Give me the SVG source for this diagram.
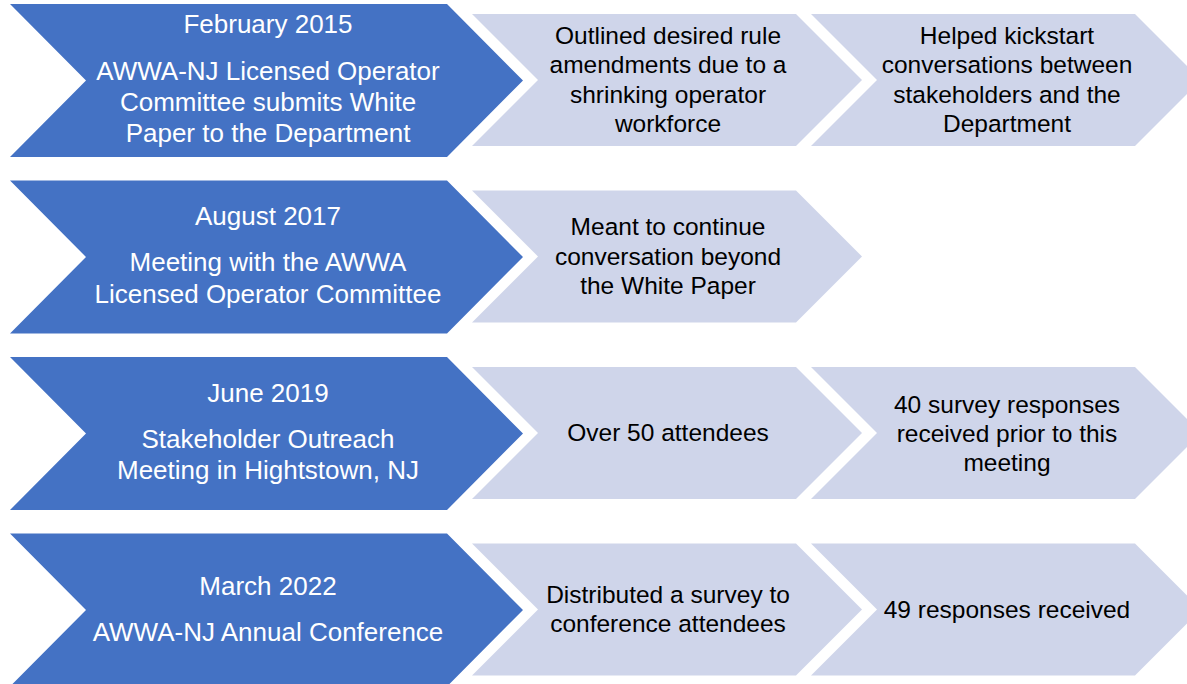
<svg xmlns="http://www.w3.org/2000/svg" width="1187" height="684" viewBox="0 0 1187 684">
<defs>
<style>
.blue{fill:#4472C4;}
.light{fill:#CFD5EA;}
.bt{font-family:"Liberation Sans",Arial,sans-serif;font-size:26px;fill:#FFFFFF;text-anchor:middle;}
.lt{font-family:"Liberation Sans",Arial,sans-serif;font-size:24.5px;fill:#000000;text-anchor:middle;}
</style>
<polygon id="bc" points="10,4 447,4 523,80.5 447,157 10,157 86,80.5"/>
<polygon id="lc1" points="472,14 796,14 862,80 796,146 472,146 538,80"/>
<polygon id="lc2" points="811,14 1135,14 1201,80 1135,146 811,146 877,80"/>
</defs>
<rect width="1187" height="684" fill="#FFFFFF"/>
<g id="connectors"></g>
<g id="row1" transform="translate(0,0)">
<g id="n1a"><use href="#bc" class="blue"/>
<text class="bt" x="268" y="33">February 2015</text>
<text class="bt" x="268" y="80">AWWA-NJ Licensed Operator</text>
<text class="bt" x="268" y="111">Committee submits White</text>
<text class="bt" x="268" y="142">Paper to the Department</text></g>
<g id="n1b"><use href="#lc1" class="light"/>
<text class="lt" x="668" y="44">Outlined desired rule</text>
<text class="lt" x="668" y="73">amendments due to a</text>
<text class="lt" x="668" y="103">shrinking operator</text>
<text class="lt" x="668" y="132">workforce</text></g>
<g id="n1c"><use href="#lc2" class="light"/>
<text class="lt" x="1007" y="44">Helped kickstart</text>
<text class="lt" x="1007" y="73">conversations between</text>
<text class="lt" x="1007" y="103">stakeholders and the</text>
<text class="lt" x="1007" y="132">Department</text></g>
</g>
<g id="row2" transform="translate(0,176.5)">
<g id="n2a"><use href="#bc" class="blue"/>
<text class="bt" x="268" y="48.5">August 2017</text>
<text class="bt" x="268" y="94.5">Meeting with the AWWA</text>
<text class="bt" x="268" y="126.5">Licensed Operator Committee</text></g>
<g id="n2b"><use href="#lc1" class="light"/>
<text class="lt" x="668" y="58.5">Meant to continue</text>
<text class="lt" x="668" y="88.5">conversation beyond</text>
<text class="lt" x="668" y="117.5">the White Paper</text></g>
</g>
<g id="row3" transform="translate(0,353)">
<g id="n3a"><use href="#bc" class="blue"/>
<text class="bt" x="268" y="49">June 2019</text>
<text class="bt" x="268" y="95">Stakeholder Outreach</text>
<text class="bt" x="268" y="126">Meeting in Hightstown, NJ</text></g>
<g id="n3b"><use href="#lc1" class="light"/>
<text class="lt" x="668" y="88">Over 50 attendees</text></g>
<g id="n3c"><use href="#lc2" class="light"/>
<text class="lt" x="1007" y="60">40 survey responses</text>
<text class="lt" x="1007" y="89">received prior to this</text>
<text class="lt" x="1007" y="118">meeting</text></g>
</g>
<g id="row4" transform="translate(0,529.5)">
<g id="n4a"><use href="#bc" class="blue"/>
<text class="bt" x="268" y="65.5">March 2022</text>
<text class="bt" x="268" y="111.5">AWWA-NJ Annual Conference</text></g>
<g id="n4b"><use href="#lc1" class="light"/>
<text class="lt" x="668" y="73.5">Distributed a survey to</text>
<text class="lt" x="668" y="102.5">conference attendees</text></g>
<g id="n4c"><use href="#lc2" class="light"/>
<text class="lt" x="1007" y="88.5">49 responses received</text></g>
</g>
</svg>
